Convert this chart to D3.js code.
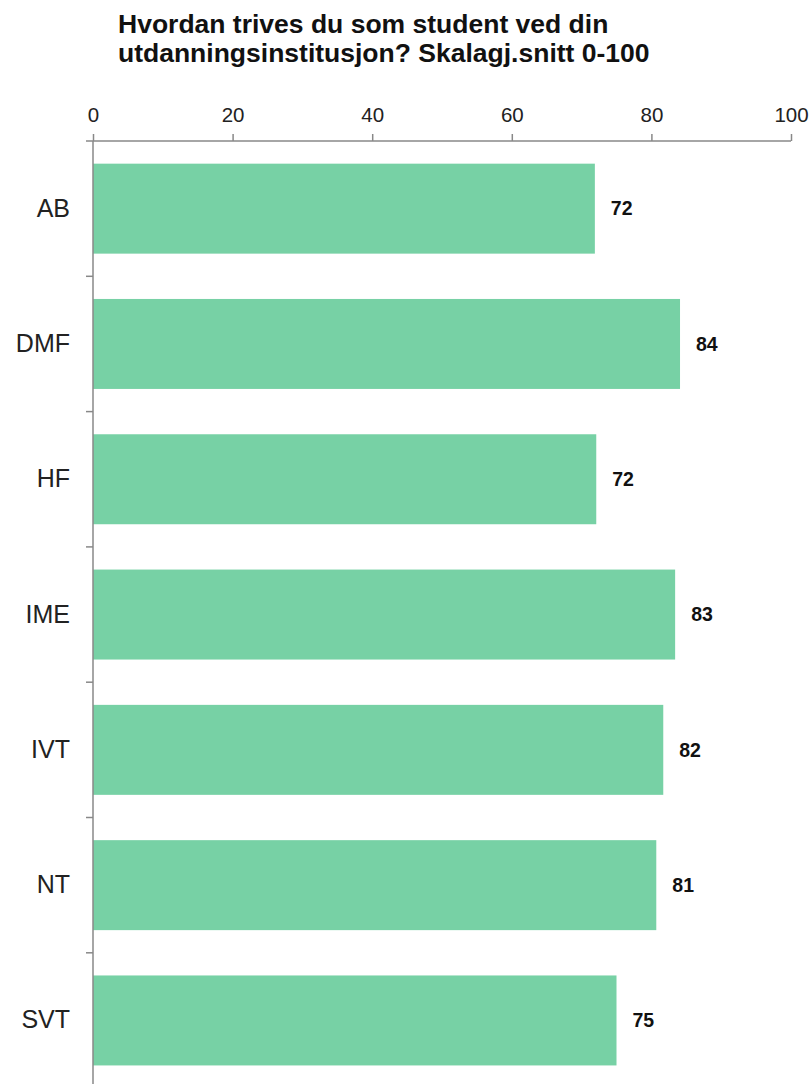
<!DOCTYPE html>
<html lang="no">
<head>
<meta charset="UTF-8">
<title>Trivsel</title>
<script src="https://d3js.org/d3.v7.min.js"></script>
<style>
    body { margin: 0; background: #fff; font-family: "Liberation Sans", Arial, sans-serif; }
    .title { font-size: 26.5px; font-weight: bold; fill: #111; }
    .x-axis text { font-size: 20.5px; fill: #222; }
    .y-axis text { font-size: 25px; fill: #222; }
    .value { font-size: 19.5px; font-weight: bold; fill: #111; }
</style>
</head>
<body>
<div id="chart"></div>
<script>
    // data
    const categories = ["AB", "DMF", "HF", "IME", "IVT", "NT", "SVT"];
    const values = [71.9, 84.1, 72.1, 83.4, 81.7, 80.7, 75.0];
    const xTicks = [0, 20, 40, 60, 80, 100];

    const W = 812, H = 1084;
    const margin = {top: 141, left: 93, right: 21};
    const step = 135.3;

    const svg = d3.select("#chart").append("svg")
        .attr("width", W)
        .attr("height", H);

    // title
    const title = svg.append("text").attr("class", "title").attr("x", 118).attr("y", 33);
    title.append("tspan").attr("x", 118).text("Hvordan trives du som student ved din");
    title.append("tspan").attr("x", 118).attr("dy", 29).text("utdanningsinstitusjon? Skalagj.snitt 0-100");

    const x = d3.scaleLinear()
        .domain([0, 100])
        .range([margin.left, W - margin.right]);

    const y = d3.scaleBand()
        .domain(categories)
        .range([margin.top, margin.top + step * categories.length])
        .paddingInner(0.335)
        .paddingOuter(0.1675);

    // bars
    svg.selectAll(".bar")
        .data(categories)
        .enter()
        .append("rect")
        .attr("class", "bar")
        .attr("x", x(0))
        .attr("y", d => y(d))
        .attr("width", (d, i) => x(values[i]) - x(0))
        .attr("height", y.bandwidth())
        .attr("fill", "#77d1a5");

    // value labels
    svg.selectAll(".value")
        .data(categories)
        .enter()
        .append("text")
        .attr("class", "value")
        .attr("x", (d, i) => x(values[i]) + 16)
        .attr("y", d => y(d) + y.bandwidth() / 2)
        .attr("dy", "0.35em")
        .text((d, i) => d3.format(".0f")(values[i]));

    // x axis (top)
    const xAxis = svg.append("g")
        .attr("class", "x-axis")
        .attr("transform", `translate(0,${margin.top})`)
        .call(d3.axisTop(x).tickValues(xTicks).tickSize(7).tickSizeOuter(0).tickPadding(12));
    xAxis.selectAll("path, line").attr("stroke", "#888").attr("stroke-width", 1.5);
    xAxis.select(".domain").attr("d", `M${x(0)},0H${x(100)}`);

    // y axis (left), labels only, ticks at band boundaries
    const yAxis = svg.append("g")
        .attr("class", "y-axis")
        .attr("transform", `translate(${x(0)},0)`)
        .call(d3.axisLeft(y).tickSize(0).tickPadding(23));
    yAxis.select(".domain").remove();

    yAxis.append("line")
        .attr("x1", 0).attr("x2", 0)
        .attr("y1", margin.top).attr("y2", H)
        .attr("stroke", "#888").attr("stroke-width", 1.5);

    const bounds = d3.range(categories.length + 1).map(i => margin.top + i * y.step());
    yAxis.selectAll(".bound")
        .data(bounds)
        .enter()
        .append("line")
        .attr("class", "bound")
        .attr("x1", -7).attr("x2", 0)
        .attr("y1", d => d).attr("y2", d => d)
        .attr("stroke", "#888").attr("stroke-width", 1.5);
</script>
</body>
</html>
